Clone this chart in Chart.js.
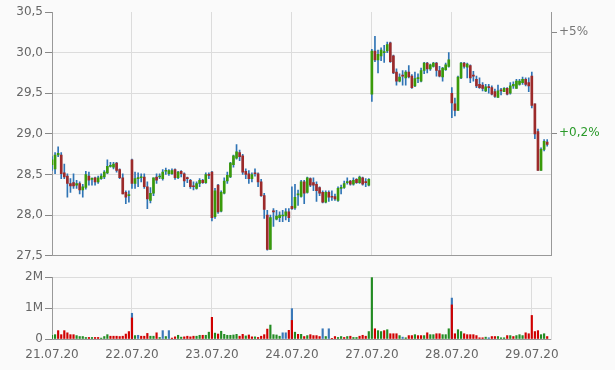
<!DOCTYPE html>
<html>
<head>
<meta charset="utf-8">
<script src="https://cdn.jsdelivr.net/npm/chart.js@4/dist/chart.umd.min.js"></script>
<style>
  html, body { margin: 0; padding: 0; background: #fafafa; }
  #wrap { position: relative; width: 615px; height: 370px; }
  #priceBox { position: absolute; left: 0; top: 0; width: 615px; height: 265px; }
  #volBox { position: absolute; left: 0; top: 265px; width: 615px; height: 105px; }
</style>
</head>
<body>
<div id="wrap">
  <div id="priceBox"><canvas id="priceChart"></canvas></div>
  <div id="volBox"><canvas id="volChart"></canvas></div>
</div>
<script>
// Trading days (x axis labels)
const days = ["21.07.20", "22.07.20", "23.07.20", "24.07.20", "27.07.20", "28.07.20", "29.07.20"];
const slotsPerDay = 26;

// Candles, one row per day
const open = [
  [28.62,28.57,28.74,28.74,28.52,28.48,28.39,28.40,28.37,28.39,28.31,28.34,28.48,28.44,28.46,28.41,28.45,28.47,28.52,28.60,28.59,28.64,28.56,28.46,28.28,28.24],
  [28.68,28.39,28.45,28.46,28.47,28.35,28.18,28.27,28.47,28.47,28.45,28.54,28.51,28.51,28.56,28.46,28.54,28.51,28.46,28.43,28.36,28.33,28.39,28.43,28.40,28.50],
  [28.53,27.98,28.37,28.05,28.27,28.42,28.47,28.62,28.70,28.77,28.73,28.54,28.51,28.45,28.52,28.51,28.41,28.24,28.00,27.58,28.05,27.95,27.97,27.99,27.99,28.04],
  [28.11,28.09,28.25,28.23,28.41,28.28,28.45,28.40,28.38,28.34,28.28,28.16,28.28,28.23,28.23,28.18,28.33,28.34,28.40,28.42,28.38,28.44,28.40,28.46,28.41,28.37],
  [29.49,30.02,29.91,29.96,30.00,30.02,30.12,29.96,29.76,29.65,29.72,29.69,29.76,29.71,29.59,29.68,29.65,29.78,29.87,29.80,29.83,29.87,29.78,29.70,29.79,29.83],
  [29.50,29.37,29.29,29.69,29.87,29.82,29.84,29.72,29.67,29.61,29.60,29.53,29.58,29.57,29.52,29.45,29.54,29.52,29.56,29.50,29.59,29.56,29.61,29.63,29.67,29.63],
  [29.71,29.37,29.03,28.55,28.81,28.90]
];
const high = [
  [28.72,28.77,28.84,28.77,28.63,28.51,28.45,28.51,28.43,28.41,28.38,28.54,28.53,28.46,28.47,28.48,28.51,28.55,28.68,28.65,28.65,28.65,28.57,28.51,28.30,28.30],
  [28.69,28.53,28.52,28.51,28.51,28.41,28.34,28.46,28.51,28.51,28.56,28.58,28.56,28.57,28.57,28.54,28.55,28.52,28.47,28.44,28.41,28.41,28.45,28.44,28.52,28.52],
  [28.54,28.33,28.38,28.30,28.46,28.53,28.65,28.74,28.87,28.80,28.75,28.57,28.55,28.52,28.57,28.52,28.44,28.27,28.06,28.00,28.08,28.06,28.04,28.06,28.08,28.08],
  [28.35,28.38,28.31,28.43,28.43,28.47,28.46,28.46,28.41,28.35,28.30,28.30,28.30,28.30,28.26,28.35,28.37,28.42,28.46,28.43,28.46,28.45,28.48,28.47,28.45,28.45],
  [30.04,30.20,30.03,30.06,30.09,30.13,30.13,29.97,29.80,29.74,29.78,29.78,29.84,29.73,29.76,29.74,29.81,29.88,29.88,29.86,29.88,29.88,29.83,29.82,29.87,30.00],
  [29.57,29.44,29.71,29.88,29.88,29.87,29.85,29.77,29.71,29.69,29.63,29.61,29.61,29.59,29.55,29.60,29.56,29.57,29.57,29.63,29.64,29.67,29.67,29.70,29.69,29.69],
  [29.76,29.37,29.06,28.83,28.93,28.93]
];
const low = [
  [28.55,28.51,28.72,28.45,28.45,28.22,28.28,28.33,28.33,28.26,28.22,28.32,28.37,28.37,28.37,28.39,28.44,28.45,28.51,28.59,28.57,28.53,28.45,28.26,28.14,28.16],
  [28.33,28.33,28.35,28.41,28.33,28.08,28.15,28.24,28.39,28.45,28.43,28.50,28.49,28.50,28.44,28.45,28.47,28.35,28.40,28.33,28.31,28.32,28.35,28.39,28.39,28.45],
  [27.93,27.96,28.02,28.04,28.26,28.39,28.46,28.59,28.69,28.67,28.50,28.45,28.39,28.41,28.48,28.35,28.23,27.96,27.57,27.58,27.86,27.94,27.92,27.92,27.94,27.92],
  [28.07,28.07,28.12,28.22,28.14,28.27,28.35,28.30,28.17,28.24,28.15,28.15,28.17,28.18,28.18,28.17,28.26,28.33,28.38,28.37,28.37,28.39,28.39,28.37,28.35,28.36],
  [29.40,29.89,29.75,29.90,29.88,30.00,29.88,29.74,29.60,29.64,29.60,29.60,29.69,29.56,29.58,29.63,29.64,29.74,29.75,29.78,29.82,29.71,29.70,29.65,29.78,29.82],
  [29.20,29.22,29.29,29.68,29.81,29.69,29.63,29.65,29.57,29.56,29.53,29.52,29.50,29.48,29.45,29.45,29.48,29.52,29.48,29.49,29.56,29.56,29.60,29.61,29.59,29.52],
  [29.32,28.94,28.55,28.55,28.79,28.85]
];
const close = [
  [28.68,28.74,28.76,28.51,28.47,28.39,28.36,28.36,28.39,28.31,28.35,28.50,28.43,28.45,28.41,28.46,28.48,28.53,28.60,28.61,28.63,28.55,28.46,28.26,28.22,28.25],
  [28.39,28.45,28.46,28.47,28.35,28.20,28.27,28.46,28.43,28.48,28.53,28.55,28.55,28.55,28.46,28.53,28.51,28.42,28.45,28.35,28.35,28.39,28.43,28.40,28.50,28.49],
  [27.97,28.30,28.04,28.28,28.42,28.49,28.64,28.73,28.78,28.72,28.53,28.50,28.45,28.50,28.51,28.41,28.24,28.07,27.58,27.97,28.04,27.99,28.00,28.00,28.04,27.97],
  [28.08,28.22,28.26,28.41,28.27,28.46,28.37,28.37,28.30,28.27,28.16,28.28,28.22,28.22,28.20,28.33,28.34,28.39,28.41,28.38,28.43,28.40,28.47,28.38,28.40,28.44],
  [30.02,29.91,29.98,30.03,30.01,30.10,29.89,29.75,29.65,29.70,29.71,29.76,29.70,29.57,29.68,29.69,29.78,29.87,29.80,29.85,29.87,29.78,29.71,29.81,29.85,29.91],
  [29.38,29.29,29.70,29.87,29.83,29.86,29.69,29.71,29.59,29.57,29.56,29.58,29.57,29.49,29.46,29.53,29.53,29.56,29.49,29.59,29.61,29.65,29.65,29.67,29.61,29.59],
  [29.35,29.00,28.55,28.81,28.91,28.87]
];

// Volume in millions, one row per day; colour code r = down, g = up, b = unchanged
const volume = [
  [0.12,0.14,0.27,0.14,0.27,0.20,0.14,0.14,0.11,0.08,0.08,0.05,0.05,0.05,0.05,0.05,0.03,0.08,0.14,0.09,0.09,0.09,0.08,0.09,0.16,0.24],
  [0.68,0.11,0.12,0.09,0.09,0.18,0.09,0.09,0.20,0.05,0.27,0.08,0.27,0.03,0.07,0.12,0.06,0.07,0.09,0.07,0.09,0.09,0.12,0.12,0.12,0.22],
  [0.70,0.19,0.16,0.25,0.15,0.12,0.12,0.13,0.15,0.09,0.15,0.10,0.13,0.07,0.07,0.05,0.09,0.14,0.32,0.45,0.14,0.13,0.09,0.20,0.20,0.28],
  [0.60,0.22,0.15,0.15,0.08,0.11,0.14,0.11,0.11,0.08,0.33,0.08,0.33,0.01,0.08,0.05,0.08,0.05,0.08,0.09,0.05,0.05,0.09,0.12,0.09,0.24],
  [1.98,0.33,0.27,0.24,0.27,0.30,0.17,0.17,0.17,0.11,0.06,0.04,0.11,0.11,0.14,0.11,0.11,0.11,0.20,0.14,0.14,0.17,0.17,0.14,0.14,0.33],
  [1.10,0.17,0.30,0.24,0.17,0.14,0.14,0.14,0.11,0.04,0.04,0.06,0.04,0.08,0.08,0.08,0.04,0.04,0.11,0.11,0.08,0.11,0.14,0.11,0.20,0.17],
  [0.76,0.24,0.27,0.14,0.17,0.08]
];
const volumeColor = [
  "ggrrrrrrggggrgrrgggrrrrrrr",
  "rgbrrrggrgbgbrrggrrrrggrgg",
  "rgrggggggrrgrrgrrrrggggbbr",
  "rgrgrgrrrrbgbrrggrgrggrrrg",
  "grggrgrrrgbgrrgrrgrggrrggg",
  "rrggrrrrrrrgbrrgggrgrgggrr",
  "rrrggr"
];
// opening bar total (blue part on top) where it differs
const openingTotal = [null, 0.83, null, 0.98, null, 1.32, null];

// Right-hand performance marks
const perfValues = [30.25, 29.01];
const perfLabels = ["+5%", "+0,2%"];
const perfColors = ["#777777", "#2a9a2a"];

const RED = "#9c2a2a", GREEN = "#3a9a0a", WICK = "#2f74b5";
const VOLC = { r: "#d00000", g: "#228b22", b: "#3a78b8" };
const GRID = "#dcdcdc", AXIS = "#999999", TEXT = "#666666";
const font = { family: "DejaVu Sans", size: 12 };
const xMax = 6.24;

const wickData = [], bodyData = [], bodyColors = [];
const volData = [], volColors = [], spikeData = [];
open.forEach((row, d) => row.forEach((o, i) => {
  const x = d + i / slotsPerDay;
  wickData.push({ x, y: [low[d][i], high[d][i]] });
  bodyData.push({ x, y: [o, close[d][i]] });
  bodyColors.push(close[d][i] >= o ? GREEN : RED);
  volData.push({ x, y: volume[d][i] });
  volColors.push(VOLC[volumeColor[d][i]]);
  if (i === 0 && openingTotal[d] !== null) spikeData.push({ x, y: openingTotal[d] });
}));

const hideAt = v => ctx => (ctx.tick && ctx.tick.value === v) ? "rgba(0,0,0,0)" : GRID;

new Chart(document.getElementById("priceChart"), {
  type: "bar",
  data: {
    datasets: [
      { data: bodyData, backgroundColor: bodyColors, barThickness: 2, minBarLength: 1, grouped: false, borderWidth: 0 },
      { data: wickData, backgroundColor: WICK, barThickness: 1, grouped: false, borderWidth: 0 }
    ]
  },
  options: {
    animation: false,
    responsive: true,
    maintainAspectRatio: false,
    layout: { padding: { top: 12, bottom: 6, left: 0, right: 0 } },
    plugins: { legend: { display: false }, tooltip: { enabled: false } },
    scales: {
      x: {
        type: "linear", min: 0, max: xMax, offset: false,
        afterFit: s => { s.height = 0; },
        ticks: { display: false, stepSize: 1 },
        grid: { color: hideAt(0), drawTicks: false, offset: false },
        border: { color: AXIS }
      },
      y: {
        min: 27.5, max: 30.5,
        afterFit: s => { s.width = 52; },
        ticks: { stepSize: 0.5, font, color: TEXT, padding: 2, callback: v => v.toFixed(1).replace(".", ",") },
        grid: { color: ctx => (ctx.tick && (ctx.tick.value === 30.5 || ctx.tick.value === 27.5)) ? "rgba(0,0,0,0)" : GRID, tickLength: 7, tickColor: "#888" },
        border: { color: AXIS }
      },
      y2: {
        position: "right", min: 27.5, max: 30.5,
        afterFit: s => { s.width = 64; },
        afterBuildTicks: s => { s.ticks = perfValues.map(v => ({ value: v })); },
        ticks: { font, padding: 2, color: ctx => perfColors[ctx.index], callback: (v, i) => perfLabels[i] },
        grid: { drawOnChartArea: false, tickLength: 6, tickColor: "#888" },
        border: { color: AXIS }
      }
    }
  }
});

new Chart(document.getElementById("volChart"), {
  type: "bar",
  data: {
    datasets: [
      { data: volData, backgroundColor: volColors, barThickness: 1.5, grouped: false, borderWidth: 0 },
      { data: spikeData, backgroundColor: VOLC.b, barThickness: 1.5, grouped: false, borderWidth: 0 }
    ]
  },
  options: {
    animation: false,
    responsive: true,
    maintainAspectRatio: false,
    layout: { padding: { top: 12, bottom: 0, left: 0, right: 0 } },
    plugins: { legend: { display: false }, tooltip: { enabled: false } },
    scales: {
      x: {
        type: "linear", min: 0, max: xMax, offset: false,
        afterFit: s => { s.height = 31; },
        afterBuildTicks: s => { s.ticks = days.map((d, i) => ({ value: i })); },
        ticks: { font, color: TEXT, padding: 9, maxRotation: 0, autoSkip: false, callback: (v, i) => days[i] },
        grid: { color: hideAt(0), drawTicks: false, offset: false },
        border: { color: AXIS }
      },
      y: {
        min: 0, max: 2,
        afterFit: s => { s.width = 52; },
        ticks: { stepSize: 1, font, color: TEXT, padding: 2, callback: v => v === 0 ? "0" : v + "M" },
        grid: { color: hideAt(0), tickLength: 7, tickColor: "#888" },
        border: { color: AXIS }
      },
      y2: {
        position: "right", min: 0, max: 2,
        afterFit: s => { s.width = 64; },
        ticks: { display: false },
        grid: { drawOnChartArea: false, drawTicks: false },
        border: { color: GRID }
      }
    }
  }
});
</script>
</body>
</html>
